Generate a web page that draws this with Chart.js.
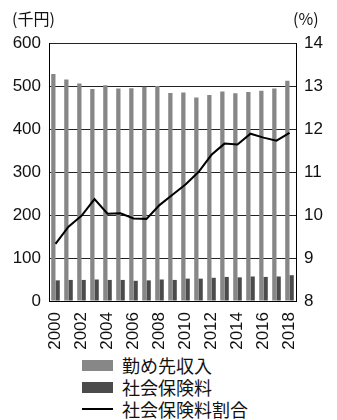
<!DOCTYPE html>
<html lang="ja">
<head>
<meta charset="utf-8">
<title>勤め先収入と社会保険料</title>
<script src="https://cdn.jsdelivr.net/npm/chart.js@4.4.1/dist/chart.umd.min.js"></script>
<style>
  html, body { margin: 0; padding: 0; background: #fff; }
  #wrap { position: relative; width: 337px; height: 420px; overflow: hidden; }
  #chart { position: absolute; left: 0; top: 0; }
  #legend { position: absolute; left: 82px; top: 354px; font-family: "Noto Sans CJK JP", sans-serif; font-size: 18px; color: #111; }
  .row { display: flex; align-items: center; height: 22px; }
  .swatch { width: 31px; height: 11px; margin-right: 9px; }
  .stroke { width: 31px; height: 2px; margin-right: 9px; background: #000; }
</style>
</head>
<body>
<div id="wrap">
  <canvas id="chart" width="337" height="350"></canvas>
  <div id="legend"></div>
</div>
<script>
// 年次データ (千円, %)
const years = ['2000', '2001', '2002', '2003', '2004', '2005', '2006', '2007', '2008', '2009',
               '2010', '2011', '2012', '2013', '2014', '2015', '2016', '2017', '2018'];
const incomeValues = [528, 515, 506, 493, 502, 494, 495, 498, 500, 484, 485, 473, 479, 487, 483, 486, 489, 494, 512];
const insuranceValues = [48, 49, 49, 50, 49, 49, 47, 48, 50, 49, 52, 52, 54, 56, 55, 57, 56, 57, 60];
const ratioValues = [9.33, 9.73, 9.98, 10.37, 10.03, 10.04, 9.92, 9.91, 10.23, 10.47, 10.71, 11.0, 11.4, 11.66, 11.64, 11.89, 11.8, 11.73, 11.91];
const leftTicks = [0, 100, 200, 300, 400, 500, 600];
const rightTicks = [8, 9, 10, 11, 12, 13, 14];

const tickFont = { family: '"Liberation Sans", Arial, sans-serif', size: 17 };

// 軸単位の見出し
const unitTitles = {
    id: 'unitTitles',
    afterDraw(chart) {
        const ctx = chart.ctx;
        const area = chart.chartArea;
        ctx.save();
        ctx.fillStyle = '#111';
        ctx.font = '16px "Noto Sans CJK JP", sans-serif';
        ctx.textBaseline = 'middle';
        ctx.textAlign = 'left';
        ctx.fillText('(千円)', 12, 19);
        ctx.fillText('(%)', area.right - 3, 19);
        ctx.restore();
    }
};

const chart = new Chart(document.getElementById('chart').getContext('2d'), {
    type: 'bar',
    data: {
        labels: years,
        datasets: [
            {
                type: 'line',
                label: '社会保険料割合',
                data: ratioValues,
                yAxisID: 'y1',
                borderColor: '#000',
                borderWidth: 2,
                pointRadius: 0,
                tension: 0,
                order: 0
            },
            {
                label: '勤め先収入',
                data: incomeValues,
                yAxisID: 'y',
                backgroundColor: '#878787',
                categoryPercentage: 0.66,
                barPercentage: 1,
                order: 1
            },
            {
                label: '社会保険料',
                data: insuranceValues,
                yAxisID: 'y',
                backgroundColor: '#4b4b4b',
                categoryPercentage: 0.66,
                barPercentage: 1,
                order: 1
            }
        ]
    },
    options: {
        responsive: false,
        animation: false,
        layout: { padding: { top: 43, left: 0, right: 0, bottom: 0 } },
        plugins: {
            legend: { display: false },
            tooltip: { enabled: false }
        },
        scales: {
            x: {
                grid: { display: false },
                border: { display: true, color: '#000', width: 1 },
                ticks: {
                    autoSkip: false,
                    maxRotation: 90,
                    minRotation: 90,
                    padding: 3,
                    color: '#111',
                    font: tickFont,
                    callback: (v, i) => (i % 2 === 0 ? years[i] : '')
                },
                afterFit: scale => { scale.height = 49; }
            },
            y: {
                position: 'left',
                min: leftTicks[0],
                max: leftTicks[leftTicks.length - 1],
                grid: { color: '#222', lineWidth: 1, drawTicks: false },
                border: { display: true, color: '#000', width: 1 },
                ticks: { stepSize: 100, padding: 8, color: '#111', font: tickFont },
                afterFit: scale => { scale.width = 49; }
            },
            y1: {
                position: 'right',
                min: rightTicks[0],
                max: rightTicks[rightTicks.length - 1],
                grid: { display: false, drawTicks: false },
                border: { display: true, color: '#000', width: 1 },
                ticks: { stepSize: 1, padding: 8, color: '#111', font: tickFont },
                afterFit: scale => { scale.width = 41; }
            }
        }
    },
    plugins: [unitTitles]
});

// 凡例 (縦並び)
const legendEl = document.getElementById('legend');
[1, 2, 0].forEach(idx => {
    const ds = chart.data.datasets[idx];
    const row = document.createElement('div');
    row.className = 'row';
    const mark = document.createElement('span');
    if (ds.type === 'line') {
        mark.className = 'stroke';
    } else {
        mark.className = 'swatch';
        mark.style.background = ds.backgroundColor;
    }
    const text = document.createElement('span');
    text.textContent = ds.label;
    row.appendChild(mark);
    row.appendChild(text);
    legendEl.appendChild(row);
});
</script>
</body>
</html>
